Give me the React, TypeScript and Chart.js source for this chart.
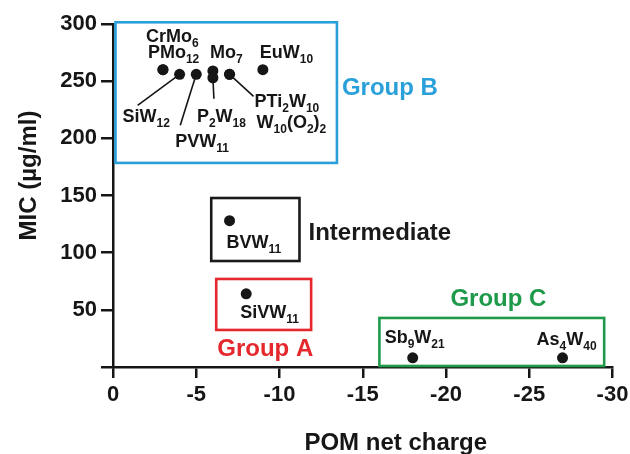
import React, { useEffect, useRef } from 'react';
import { Chart, registerables } from 'chart.js';

Chart.register(...registerables);

// ---- data -------------------------------------------------------------
const pomNames = [
  'CrMo{6}', 'PMo{12}', 'SiW{12}', 'PVW{11}', 'Mo{7}', 'P{2}W{18}',
  'PTi{2}W{10}', 'W{10}(O{2}){2}', 'EuW{10}', 'BVW{11}', 'SiVW{11}',
  'Sb{9}W{21}', 'As{4}W{40}',
];
const netCharge = [-3, -3, -4, -5, -6, -6, -7, -7, -9, -7, -8, -18, -27];
const micValues = [260, 260, 256, 256, 259, 253, 256, 256, 260, 128, 64, 8, 8];

const xTickValues = [0, -5, -10, -15, -20, -25, -30];
const yTickValues = [0, 50, 100, 150, 200, 250, 300];

const groupNames = ['Group B', 'Intermediate', 'Group A', 'Group C'];
const groupChargeRange = [[-0.15, -13.45], [-5.9, -11.2], [-6.2, -11.9], [-16, -29.5]];
const groupMicRange = [[178.5, 301.5], [92.7, 147.8], [32.4, 77], [0.9, 42.9]];

// ---- presentation -----------------------------------------------------
const FONT = "'Liberation Sans', Arial, Helvetica, sans-serif";
const INK = '#161616';

// pixel offsets of each label (left/baseline) from its point, optional leader end
const labelLayout: { dx: number; dy: number; lead?: [number, number] }[] = [
  { dx: -17, dy: -28 },
  { dx: -15, dy: -12 },
  { dx: -57, dy: 48, lead: [-42, 31] },
  { dx: -21, dy: 73, lead: [-16, 51] },
  { dx: -3, dy: -13 },
  { dx: -16, dy: 44, lead: [1, 21] },
  { dx: 25, dy: 33, lead: [24, 22] },
  { dx: 27, dy: 54 },
  { dx: -3, dy: -12 },
  { dx: -3, dy: 27 },
  { dx: -6, dy: 24 },
  { dx: -28, dy: -15 },
  { dx: -26, dy: -13 },
];

const groupStyle: { color: string; ax: string; ay: string; dx: number; dy: number }[] = [
  { color: '#2aa0da', ax: 'right', ay: 'middle', dx: 5, dy: 2.5 },
  { color: '#1a1a1a', ax: 'right', ay: 'middle', dx: 9, dy: 10.5 },
  { color: '#e4282d', ax: 'left', ay: 'bottom', dx: 1, dy: 26 },
  { color: '#1f9a4b', ax: 'left', ay: 'top', dx: 71, dy: -12 },
];

function drawRich(ctx: CanvasRenderingContext2D, text: string, x: number, y: number, size: number, subSize: number) {
  const parts = text.split(/(\{[^}]*\})/).filter(Boolean);
  let cx = x;
  for (const p of parts) {
    const sub = p.startsWith('{');
    const t = sub ? p.slice(1, -1) : p;
    ctx.font = `bold ${sub ? subSize : size}px ${FONT}`;
    ctx.fillText(t, cx, sub ? y + 5 : y);
    cx += ctx.measureText(t).width;
  }
}

const overlayPlugin = {
  id: 'overlay',
  afterDraw(chart: any) {
    const { ctx, chartArea } = chart;
    const xs = chart.scales.x;
    const ys = chart.scales.y;
    ctx.save();
    ctx.textAlign = 'left';
    ctx.textBaseline = 'alphabetic';

    // group boxes + labels
    groupNames.forEach((name, i) => {
      const [xa, xb] = groupChargeRange[i];
      const [ya, yb] = groupMicRange[i];
      const p1 = xs.getPixelForValue(xa);
      const p2 = xs.getPixelForValue(xb);
      const l = Math.min(p1, p2);
      const r = Math.max(p1, p2);
      const t = ys.getPixelForValue(yb);
      const b = ys.getPixelForValue(ya);
      const st = groupStyle[i];
      ctx.strokeStyle = st.color;
      ctx.lineWidth = 2.6;
      ctx.strokeRect(l, t, r - l, b - t);
      const ax = st.ax === 'right' ? r : l;
      const ay = st.ay === 'middle' ? (t + b) / 2 : st.ay === 'top' ? t : b;
      ctx.fillStyle = st.color;
      ctx.font = `bold 24px ${FONT}`;
      ctx.fillText(name, ax + st.dx, ay + st.dy);
    });

    // point labels + leader lines
    ctx.fillStyle = INK;
    ctx.strokeStyle = INK;
    ctx.lineWidth = 1.6;
    pomNames.forEach((name, i) => {
      const px = xs.getPixelForValue(netCharge[i]);
      const py = ys.getPixelForValue(micValues[i]);
      const lay = labelLayout[i];
      if (lay.lead) {
        ctx.beginPath();
        ctx.moveTo(px, py);
        ctx.lineTo(px + lay.lead[0], py + lay.lead[1]);
        ctx.stroke();
      }
      drawRich(ctx, name, px + lay.dx, py + lay.dy, 18, 12);
    });

    // axis titles
    ctx.fillStyle = INK;
    ctx.font = `bold 24px ${FONT}`;
    ctx.textAlign = 'center';
    const cx = (chartArea.left + chartArea.right) / 2;
    ctx.fillText('POM net charge', cx + 33, chart.height - 4);
    ctx.save();
    ctx.translate(36, (chartArea.top + chartArea.bottom) / 2 - 20);
    ctx.rotate(-Math.PI / 2);
    ctx.fillText('MIC (\u00b5g/ml)', 0, 0);
    ctx.restore();

    ctx.restore();
  },
};

export default function App() {
  const ref = useRef<HTMLCanvasElement | null>(null);

  useEffect(() => {
    if (!ref.current) return;
    const tickFont = { family: FONT, size: 22, weight: 'bold' as const };
    const chart = new Chart(ref.current, {
      type: 'scatter',
      data: {
        datasets: [
          {
            data: netCharge.map((c, i) => ({ x: c, y: micValues[i] })),
            backgroundColor: INK,
            borderColor: INK,
            borderWidth: 0,
            pointRadius: 5.5,
            pointHoverRadius: 5.5,
          },
        ],
      },
      options: {
        animation: false,
        responsive: false,
        events: [],
        layout: { padding: { top: 24, right: 17.5, left: 0, bottom: 0 } },
        plugins: { legend: { display: false }, tooltip: { enabled: false } },
        scales: {
          x: {
            type: 'linear',
            min: -30,
            max: 0,
            reverse: true,
            afterBuildTicks: (s: any) => {
              s.ticks = [...xTickValues].sort((a, b) => a - b).map((v) => ({ value: v }));
            },
            afterFit: (s: any) => {
              s.height = 87;
            },
            ticks: {
              font: tickFont,
              color: INK,
              padding: 4,
              maxRotation: 0,
              autoSkip: false,
              callback: (v: any) => String(v),
            },
            grid: { drawOnChartArea: false, drawTicks: true, tickLength: 11, color: INK, lineWidth: 2.5 },
            border: { display: true, color: INK, width: 2.5 },
          },
          y: {
            type: 'linear',
            min: 0,
            max: 300,
            afterBuildTicks: (s: any) => {
              s.ticks = [...yTickValues].sort((a, b) => a - b).map((v) => ({ value: v }));
            },
            afterFit: (s: any) => {
              s.width = 113;
            },
            ticks: {
              font: tickFont,
              color: INK,
              padding: 4,
              autoSkip: false,
              callback: (v: any) => (v === 0 ? '' : String(v)),
            },
            grid: { drawOnChartArea: false, drawTicks: true, tickLength: 12, color: INK, lineWidth: 2.5 },
            border: { display: true, color: INK, width: 2.5 },
          },
        },
      },
      plugins: [overlayPlugin],
    });
    return () => chart.destroy();
  }, []);

  return (
    <div style={{ position: 'fixed', left: 0, top: 0, width: 630, height: 454, background: '#fff' }}>
      <canvas ref={ref} width={630} height={454} />
    </div>
  );
}
